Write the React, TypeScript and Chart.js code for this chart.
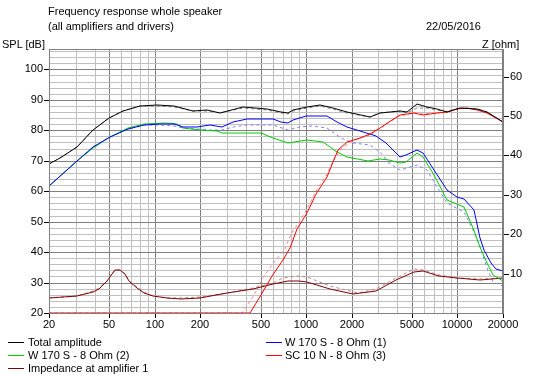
import React, { useEffect, useRef } from "react";
import { Chart, registerables } from "chart.js";

Chart.register(...registerables);

// ---- data ----
const totalFreq = [20, 23.6, 30.5, 39.3, 50, 62, 80, 103, 133, 180, 220, 270, 384, 549, 682, 764, 824, 1010, 1236, 1514, 1857, 2650, 3083, 4180, 4625, 5390, 6270, 7300, 8500, 10400, 13420, 15630, 20000];
const totalSpl = [68.9, 70.8, 74.6, 80.1, 83.9, 86.4, 88.0, 88.2, 88.0, 86.4, 86.6, 85.8, 87.5, 86.9, 85.9, 85.6, 86.6, 87.7, 88.3, 87.4, 86.1, 84.4, 85.6, 86.4, 85.9, 88.6, 87.7, 87.0, 86.1, 87.4, 86.9, 85.9, 82.6];
const totalRefSpl = [68.9, 70.8, 74.6, 80.1, 83.9, 86.3, 87.8, 87.8, 87.6, 86.2, 86.4, 85.6, 87.2, 86.6, 85.6, 85.3, 86.2, 87.4, 88.0, 87.0, 85.6, 84.4, 85.6, 86.2, 85.7, 87.4, 87.2, 86.8, 86.1, 87.4, 86.9, 85.9, 82.6];

const w1Freq = [20, 30.5, 39.3, 50.4, 67, 85, 108, 133, 154, 189, 231, 277, 330, 404, 608, 682, 764, 824, 1000, 1370, 1590, 1857, 2260, 2900, 3390, 4180, 4600, 5390, 5960, 7000, 8500, 9930, 11000, 12900, 14200, 14900, 16600, 18000, 20000];
const w1Spl = [61.8, 69.9, 74.6, 77.9, 80.4, 81.8, 82.0, 81.9, 81.0, 81.0, 81.7, 81.2, 82.8, 83.6, 83.6, 82.6, 82.5, 83.4, 84.7, 84.8, 82.8, 81.2, 79.8, 78.1, 75.7, 71.3, 71.9, 73.5, 72.4, 66.9, 60.3, 58.2, 57.3, 53.8, 44.5, 40.7, 36.3, 34.5, 33.8];

const w1RefFreq = [20, 30.5, 39.3, 50.4, 67, 85, 108, 133, 154, 189, 227, 277, 330, 404, 608, 764, 900, 1100, 1370, 1700, 2050, 2650, 3080, 3550, 4180, 5390, 6270, 7300, 8500, 11000, 12740, 14200, 15630, 17250, 20000];
const w1RefSpl = [61.8, 69.9, 74.6, 77.9, 80.4, 81.6, 81.7, 81.5, 80.8, 80.3, 80.1, 80.0, 81.0, 81.7, 81.7, 80.1, 81.2, 81.4, 80.6, 77.4, 75.7, 75.2, 73.0, 69.1, 67.1, 68.6, 66.9, 61.4, 56.0, 53.3, 47.3, 41.8, 34.7, 30.3, 28.7];

const w2Freq = [20, 30.5, 39.3, 50.4, 67, 85, 117, 140, 154, 200, 256, 277, 366, 500, 608, 764, 1010, 1300, 1590, 1857, 2560, 3080, 3550, 4180, 4600, 5390, 5960, 7000, 8500, 11000, 12740, 14200, 15630, 17250, 20000];
const w2Spl = [61.8, 69.9, 74.3, 77.8, 80.6, 82.0, 82.3, 81.9, 80.6, 80.1, 79.9, 79.0, 79.2, 79.0, 77.4, 75.9, 76.8, 76.2, 73.0, 71.3, 70.0, 70.7, 70.2, 69.1, 69.7, 72.6, 71.3, 65.3, 57.0, 54.9, 47.8, 41.8, 36.3, 32.5, 30.5];

const scFreq = [20, 426, 500, 593, 700, 785, 867, 1010, 1170, 1370, 1514, 1630, 1857, 2260, 2650, 3080, 3550, 4180, 5130, 5960, 7300, 8500, 9930, 11500, 13420, 15630, 20000];
const scSpl = [20, 20, 25.9, 32.2, 37.5, 41.5, 47.5, 52.7, 59, 64.7, 69.7, 73.5, 76.2, 77.3, 78.8, 80.6, 82.8, 85.0, 85.6, 85.0, 85.6, 86.1, 86.9, 87.4, 86.8, 85.8, 82.6];

const scRefFreq = [20, 375, 450, 530, 620, 720, 800, 900, 1010, 1170, 1370, 1514, 1700, 2000, 2650, 3080, 3550, 4180, 5130, 5960, 7300, 8500, 9930];
const scRefSpl = [20, 20, 26, 32, 37, 41, 46, 50, 54, 60, 65.5, 70, 74, 76.5, 78.6, 80.4, 82.6, 84.8, 85.6, 85.2, 85.8, 86.2, 86.9];

const zFreq = [20, 30.5, 39.3, 43, 48.1, 51.8, 54.6, 59, 63.5, 68, 76.5, 84.8, 97.3, 120, 150, 200, 300, 448, 608, 764, 900, 1010, 1440, 2050, 2900, 3900, 5130, 5960, 7600, 9930, 14200, 20000];
const zOhm = [3.8, 4.3, 5.4, 6.2, 8.1, 9.8, 10.9, 10.9, 9.8, 8.1, 6.4, 5.2, 4.3, 3.7, 3.6, 3.9, 5.0, 6.2, 7.3, 8.1, 8.2, 7.8, 6.0, 4.7, 5.6, 8.5, 10.5, 10.6, 9.5, 8.8, 8.5, 9.0];

const zRefFreq = [20, 30.5, 39.3, 43, 48.1, 51.8, 54.6, 59, 63.5, 68, 76.5, 84.8, 97.3, 120, 150, 200, 300, 448, 608, 708, 890, 1010, 1440, 2200, 2900, 3900, 5130, 5960, 7600, 9930, 14200, 20000];
const zRefOhm = [3.9, 4.4, 5.5, 6.3, 8.2, 9.9, 11.0, 11.0, 9.9, 8.2, 6.5, 5.3, 4.4, 3.8, 3.7, 4.0, 5.1, 6.4, 7.6, 9.0, 9.5, 9.2, 6.8, 5.0, 6.0, 9.0, 11.2, 10.9, 9.6, 8.9, 8.7, 9.0];

const xTicks = [20, 30, 40, 50, 60, 70, 80, 90, 100, 200, 300, 400, 500, 600, 700, 800, 900, 1000, 2000, 3000, 4000, 5000, 6000, 7000, 8000, 9000, 10000, 20000];
const xLabels = [20, 50, 100, 200, 500, 1000, 2000, 5000, 10000, 20000];
const xMajor = [50, 100, 200, 500, 1000, 2000, 5000, 10000];
const splTicks = [20, 22, 24, 26, 28, 30, 32, 34, 36, 38, 40, 42, 44, 46, 48, 50, 52, 54, 56, 58, 60, 62, 64, 66, 68, 70, 72, 74, 76, 78, 80, 82, 84, 86, 88, 90, 92, 94, 96, 98, 100, 102, 104, 106];
const ohmTicks = [10, 20, 30, 40, 50, 60];

const legendItems = [
  { label: "Total amplitude", color: "#000000", col: 0, row: 0 },
  { label: "W 170 S - 8 Ohm (1)", color: "#0000FF", col: 1, row: 0 },
  { label: "W 170 S - 8 Ohm (2)", color: "#00CC00", col: 0, row: 1 },
  { label: "SC 10 N - 8 Ohm (3)", color: "#FF0000", col: 1, row: 1 },
  { label: "Impedance at amplifier 1", color: "#800000", col: 0, row: 2 },
];

const FONT = "'Liberation Sans', Arial, sans-serif";
const DARK = "#808080";
const LIGHT = "#C0C0C0";

const pts = (fs: number[], vs: number[]) => fs.map((f, i) => ({ x: f, y: vs[i] }));

const frame = {
  id: "frame",
  afterDraw(chart: any) {
    const { ctx, chartArea: a } = chart;
    ctx.save();
    ctx.strokeStyle = DARK;
    ctx.lineWidth = 1;
    ctx.strokeRect(Math.round(a.left) + 0.5, Math.round(a.top) + 0.5, Math.round(a.right - a.left) - 1, Math.round(a.bottom - a.top));
    ctx.restore();
  },
};

export default function App() {
  const ref = useRef<HTMLCanvasElement | null>(null);
  useEffect(() => {
    if (!ref.current) return;
    const mk = (label: string, fs: number[], vs: number[], color: string, axis: string, order: number, dash: number[] = []) => ({
      label,
      data: pts(fs, vs),
      borderColor: color,
      backgroundColor: color,
      borderWidth: 1,
      borderDash: dash,
      pointRadius: 0,
      fill: false,
      tension: 0,
      yAxisID: axis,
      order,
    });
    const font = { family: FONT, size: 11 };
    const chart = new Chart(ref.current, {
      type: "line",
      data: {
        datasets: [
          mk("Total ref", totalFreq, totalRefSpl, "#808080", "y", 9, [3, 3]),
          mk("W1 ref", w1RefFreq, w1RefSpl, "#8080FF", "y", 8, [3, 3]),
          mk("SC ref", scRefFreq, scRefSpl, "#FF8080", "y", 7, [3, 3]),
          mk("Z ref", zRefFreq, zRefOhm, "#C08080", "y2", 6, [3, 3]),
          mk("Impedance at amplifier 1", zFreq, zOhm, "#800000", "y2", 5),
          mk("W 170 S - 8 Ohm (2)", w2Freq, w2Spl, "#00CC00", "y", 4),
          mk("W 170 S - 8 Ohm (1)", w1Freq, w1Spl, "#0000FF", "y", 3),
          mk("SC 10 N - 8 Ohm (3)", scFreq, scSpl, "#FF0000", "y", 2),
          mk("Total amplitude", totalFreq, totalSpl, "#000000", "y", 1),
        ] as any,
      },
      options: {
        animation: false,
        responsive: false,
        maintainAspectRatio: false,
        layout: { padding: { top: 49, left: 0, right: 0, bottom: 0 } },
        plugins: { legend: { display: false }, tooltip: { enabled: false }, title: { display: false } },
        scales: {
          x: {
            type: "logarithmic",
            min: 20,
            max: 20000,
            alignToPixels: true,
            afterBuildTicks: (s: any) => { s.ticks = xTicks.map((v) => ({ value: v })); },
            afterFit: (s: any) => { s.height = 64; },
            ticks: {
              autoSkip: false,
              maxRotation: 0,
              minRotation: 0,
              color: "#000",
              font,
              padding: 0,
              callback: (v: any) => (xLabels.includes(Number(v)) ? String(v) : ""),
            },
            grid: {
              color: (c: any) => (xMajor.includes(c.tick?.value) ? DARK : LIGHT),
              tickColor: (c: any) => (xLabels.includes(c.tick?.value) ? "#000" : "rgba(0,0,0,0)"),
              tickLength: 5,
              lineWidth: 1,
            },
            border: { color: DARK },
          } as any,
          y: {
            position: "left",
            min: 20,
            max: 106.67,
            alignToPixels: true,
            afterBuildTicks: (s: any) => { s.ticks = splTicks.map((v) => ({ value: v })); },
            afterFit: (s: any) => { s.width = 49; },
            ticks: {
              autoSkip: false,
              color: "#000",
              font,
              padding: 1,
              callback: (v: any) => (Number(v) % 10 === 0 ? String(v) : ""),
            },
            grid: {
              color: (c: any) => (c.tick && c.tick.value % 10 === 0 ? DARK : LIGHT),
              tickColor: (c: any) => (c.tick && c.tick.value % 10 === 0 ? "#000" : "rgba(0,0,0,0)"),
              tickLength: 5,
              lineWidth: 1,
            },
            border: { color: DARK },
          } as any,
          y2: {
            position: "right",
            min: 0,
            max: 67,
            alignToPixels: true,
            afterBuildTicks: (s: any) => { s.ticks = ohmTicks.map((v) => ({ value: v })); },
            afterFit: (s: any) => { s.width = 45; },
            ticks: { autoSkip: false, color: "#000", font, padding: 1, callback: (v: any) => String(v) },
            grid: { drawOnChartArea: false, tickColor: "#000", tickLength: 6, lineWidth: 1 },
            border: { color: DARK },
          } as any,
        },
      },
      plugins: [frame],
    });
    return () => chart.destroy();
  }, []);

  const txt = (s: string, left: number, top: number, extra: any = {}) => (
    <div style={{ position: "absolute", left, top, font: `11px ${FONT}`, lineHeight: "13px", color: "#000", whiteSpace: "nowrap", ...extra }}>{s}</div>
  );

  return (
    <div style={{ position: "absolute", left: 0, top: 0, width: 548, height: 377, background: "#fff", overflow: "hidden" }}>
      <canvas ref={ref} width={548} height={377} style={{ position: "absolute", left: 0, top: 0, width: 548, height: 377 }} />
      {txt("Frequency response whole speaker", 48, 5)}
      {txt("(all amplifiers and drivers)", 48, 20)}
      <div style={{ position: "absolute", right: 548 - 481, top: 20, font: `11px ${FONT}`, lineHeight: "13px", whiteSpace: "nowrap" }}>22/05/2016</div>
      {txt("SPL [dB]", 2, 37.5)}
      {txt("Z [ohm]", 482, 37.5)}
      {legendItems.map((it) => {
        const x = it.col === 0 ? 8 : 266;
        const ly = 342 + it.row * 13;
        return (
          <React.Fragment key={it.label}>
            <div style={{ position: "absolute", left: x, top: ly, width: 16, height: 1, background: it.color }} />
            {txt(it.label, x + 20 - (it.col === 0 ? 0 : 1), ly - 6.5)}
          </React.Fragment>
        );
      })}
    </div>
  );
}
